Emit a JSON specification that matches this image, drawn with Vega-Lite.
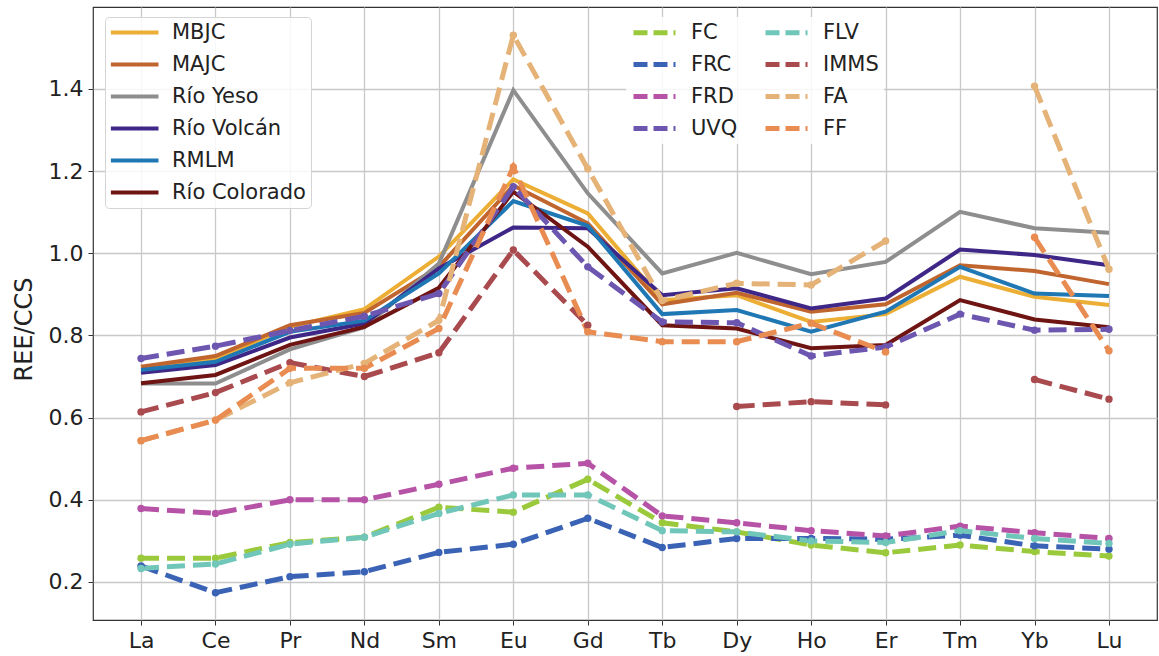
{
  "$schema": "https://vega.github.io/schema/vega-lite/v6.json",
  "width": 1064,
  "height": 613,
  "autosize": {"type": "none"},
  "padding": {"left": 93, "top": 7, "right": 2, "bottom": 36},
  "background": "white",
  "config": {
    "font": "DejaVu Sans",
    "view": {"stroke": "#333333", "strokeWidth": 1.2},
    "axis": {
      "gridColor": "#c8c8c8",
      "gridWidth": 1.3,
      "domain": false,
      "tickColor": "#333333",
      "tickSize": 5,
      "labelFontSize": 22,
      "labelColor": "#222222",
      "labelFont": "DejaVu Sans"
    }
  },
  "datasets": {
    "solid": [
      {"element": "La", "series": "MBJC", "value": 0.720},
      {"element": "Ce", "series": "MBJC", "value": 0.744},
      {"element": "Pr", "series": "MBJC", "value": 0.821},
      {"element": "Nd", "series": "MBJC", "value": 0.864},
      {"element": "Sm", "series": "MBJC", "value": 0.992},
      {"element": "Eu", "series": "MBJC", "value": 1.180},
      {"element": "Gd", "series": "MBJC", "value": 1.097},
      {"element": "Tb", "series": "MBJC", "value": 0.886},
      {"element": "Dy", "series": "MBJC", "value": 0.898},
      {"element": "Ho", "series": "MBJC", "value": 0.833},
      {"element": "Er", "series": "MBJC", "value": 0.852},
      {"element": "Tm", "series": "MBJC", "value": 0.943},
      {"element": "Yb", "series": "MBJC", "value": 0.894},
      {"element": "Lu", "series": "MBJC", "value": 0.874},
      {"element": "La", "series": "MAJC", "value": 0.724},
      {"element": "Ce", "series": "MAJC", "value": 0.750},
      {"element": "Pr", "series": "MAJC", "value": 0.825},
      {"element": "Nd", "series": "MAJC", "value": 0.855},
      {"element": "Sm", "series": "MAJC", "value": 0.967},
      {"element": "Eu", "series": "MAJC", "value": 1.165},
      {"element": "Gd", "series": "MAJC", "value": 1.073},
      {"element": "Tb", "series": "MAJC", "value": 0.876},
      {"element": "Dy", "series": "MAJC", "value": 0.904},
      {"element": "Ho", "series": "MAJC", "value": 0.858},
      {"element": "Er", "series": "MAJC", "value": 0.876},
      {"element": "Tm", "series": "MAJC", "value": 0.971},
      {"element": "Yb", "series": "MAJC", "value": 0.957},
      {"element": "Lu", "series": "MAJC", "value": 0.925},
      {"element": "La", "series": "Río Yeso", "value": 0.683},
      {"element": "Ce", "series": "Río Yeso", "value": 0.683},
      {"element": "Pr", "series": "Río Yeso", "value": 0.766},
      {"element": "Nd", "series": "Río Yeso", "value": 0.820},
      {"element": "Sm", "series": "Río Yeso", "value": 0.975},
      {"element": "Eu", "series": "Río Yeso", "value": 1.397},
      {"element": "Gd", "series": "Río Yeso", "value": 1.146},
      {"element": "Tb", "series": "Río Yeso", "value": 0.951},
      {"element": "Dy", "series": "Río Yeso", "value": 1.001},
      {"element": "Ho", "series": "Río Yeso", "value": 0.949},
      {"element": "Er", "series": "Río Yeso", "value": 0.979},
      {"element": "Tm", "series": "Río Yeso", "value": 1.101},
      {"element": "Yb", "series": "Río Yeso", "value": 1.061},
      {"element": "Lu", "series": "Río Yeso", "value": 1.050},
      {"element": "La", "series": "Río Volcán", "value": 0.709},
      {"element": "Ce", "series": "Río Volcán", "value": 0.728},
      {"element": "Pr", "series": "Río Volcán", "value": 0.795},
      {"element": "Nd", "series": "Río Volcán", "value": 0.829},
      {"element": "Sm", "series": "Río Volcán", "value": 0.963},
      {"element": "Eu", "series": "Río Volcán", "value": 1.063},
      {"element": "Gd", "series": "Río Volcán", "value": 1.061},
      {"element": "Tb", "series": "Río Volcán", "value": 0.898},
      {"element": "Dy", "series": "Río Volcán", "value": 0.915},
      {"element": "Ho", "series": "Río Volcán", "value": 0.866},
      {"element": "Er", "series": "Río Volcán", "value": 0.890},
      {"element": "Tm", "series": "Río Volcán", "value": 1.009},
      {"element": "Yb", "series": "Río Volcán", "value": 0.996},
      {"element": "Lu", "series": "Río Volcán", "value": 0.971},
      {"element": "La", "series": "RMLM", "value": 0.716},
      {"element": "Ce", "series": "RMLM", "value": 0.736},
      {"element": "Pr", "series": "RMLM", "value": 0.809},
      {"element": "Nd", "series": "RMLM", "value": 0.836},
      {"element": "Sm", "series": "RMLM", "value": 0.951},
      {"element": "Eu", "series": "RMLM", "value": 1.127},
      {"element": "Gd", "series": "RMLM", "value": 1.067},
      {"element": "Tb", "series": "RMLM", "value": 0.852},
      {"element": "Dy", "series": "RMLM", "value": 0.862},
      {"element": "Ho", "series": "RMLM", "value": 0.809},
      {"element": "Er", "series": "RMLM", "value": 0.858},
      {"element": "Tm", "series": "RMLM", "value": 0.967},
      {"element": "Yb", "series": "RMLM", "value": 0.902},
      {"element": "Lu", "series": "RMLM", "value": 0.896},
      {"element": "La", "series": "Río Colorado", "value": 0.684},
      {"element": "Ce", "series": "Río Colorado", "value": 0.704},
      {"element": "Pr", "series": "Río Colorado", "value": 0.777},
      {"element": "Nd", "series": "Río Colorado", "value": 0.821},
      {"element": "Sm", "series": "Río Colorado", "value": 0.916},
      {"element": "Eu", "series": "Río Colorado", "value": 1.150},
      {"element": "Gd", "series": "Río Colorado", "value": 1.016},
      {"element": "Tb", "series": "Río Colorado", "value": 0.825},
      {"element": "Dy", "series": "Río Colorado", "value": 0.817},
      {"element": "Ho", "series": "Río Colorado", "value": 0.769},
      {"element": "Er", "series": "Río Colorado", "value": 0.777},
      {"element": "Tm", "series": "Río Colorado", "value": 0.886},
      {"element": "Yb", "series": "Río Colorado", "value": 0.839},
      {"element": "Lu", "series": "Río Colorado", "value": 0.820}
    ],
    "dashed": [
      {"element": "La", "series": "FC", "value": 0.258},
      {"element": "Ce", "series": "FC", "value": 0.258},
      {"element": "Pr", "series": "FC", "value": 0.296},
      {"element": "Nd", "series": "FC", "value": 0.309},
      {"element": "Sm", "series": "FC", "value": 0.382},
      {"element": "Eu", "series": "FC", "value": 0.370},
      {"element": "Gd", "series": "FC", "value": 0.450},
      {"element": "Tb", "series": "FC", "value": 0.344},
      {"element": "Dy", "series": "FC", "value": 0.322},
      {"element": "Ho", "series": "FC", "value": 0.290},
      {"element": "Er", "series": "FC", "value": 0.271},
      {"element": "Tm", "series": "FC", "value": 0.290},
      {"element": "Yb", "series": "FC", "value": 0.274},
      {"element": "Lu", "series": "FC", "value": 0.263},
      {"element": "La", "series": "FRC", "value": 0.239},
      {"element": "Ce", "series": "FRC", "value": 0.174},
      {"element": "Pr", "series": "FRC", "value": 0.213},
      {"element": "Nd", "series": "FRC", "value": 0.225},
      {"element": "Sm", "series": "FRC", "value": 0.272},
      {"element": "Eu", "series": "FRC", "value": 0.292},
      {"element": "Gd", "series": "FRC", "value": 0.355},
      {"element": "Tb", "series": "FRC", "value": 0.284},
      {"element": "Dy", "series": "FRC", "value": 0.306},
      {"element": "Ho", "series": "FRC", "value": 0.306},
      {"element": "Er", "series": "FRC", "value": 0.304},
      {"element": "Tm", "series": "FRC", "value": 0.314},
      {"element": "Yb", "series": "FRC", "value": 0.288},
      {"element": "Lu", "series": "FRC", "value": 0.280},
      {"element": "La", "series": "FRD", "value": 0.379},
      {"element": "Ce", "series": "FRD", "value": 0.367},
      {"element": "Pr", "series": "FRD", "value": 0.400},
      {"element": "Nd", "series": "FRD", "value": 0.400},
      {"element": "Sm", "series": "FRD", "value": 0.438},
      {"element": "Eu", "series": "FRD", "value": 0.477},
      {"element": "Gd", "series": "FRD", "value": 0.489},
      {"element": "Tb", "series": "FRD", "value": 0.361},
      {"element": "Dy", "series": "FRD", "value": 0.344},
      {"element": "Ho", "series": "FRD", "value": 0.325},
      {"element": "Er", "series": "FRD", "value": 0.312},
      {"element": "Tm", "series": "FRD", "value": 0.336},
      {"element": "Yb", "series": "FRD", "value": 0.320},
      {"element": "Lu", "series": "FRD", "value": 0.306},
      {"element": "La", "series": "UVQ", "value": 0.744},
      {"element": "Ce", "series": "UVQ", "value": 0.774},
      {"element": "Pr", "series": "UVQ", "value": 0.812},
      {"element": "Nd", "series": "UVQ", "value": 0.847},
      {"element": "Sm", "series": "UVQ", "value": 0.902},
      {"element": "Eu", "series": "UVQ", "value": 1.162},
      {"element": "Gd", "series": "UVQ", "value": 0.967},
      {"element": "Tb", "series": "UVQ", "value": 0.833},
      {"element": "Dy", "series": "UVQ", "value": 0.831},
      {"element": "Ho", "series": "UVQ", "value": 0.750},
      {"element": "Er", "series": "UVQ", "value": 0.772},
      {"element": "Tm", "series": "UVQ", "value": 0.852},
      {"element": "Yb", "series": "UVQ", "value": 0.813},
      {"element": "Lu", "series": "UVQ", "value": 0.815},
      {"element": "La", "series": "FLV", "value": 0.233},
      {"element": "Ce", "series": "FLV", "value": 0.244},
      {"element": "Pr", "series": "FLV", "value": 0.292},
      {"element": "Nd", "series": "FLV", "value": 0.309},
      {"element": "Sm", "series": "FLV", "value": 0.367},
      {"element": "Eu", "series": "FLV", "value": 0.412},
      {"element": "Gd", "series": "FLV", "value": 0.412},
      {"element": "Tb", "series": "FLV", "value": 0.325},
      {"element": "Dy", "series": "FLV", "value": 0.322},
      {"element": "Ho", "series": "FLV", "value": 0.300},
      {"element": "Er", "series": "FLV", "value": 0.296},
      {"element": "Tm", "series": "FLV", "value": 0.325},
      {"element": "Yb", "series": "FLV", "value": 0.306},
      {"element": "Lu", "series": "FLV", "value": 0.294},
      {"element": "La", "series": "IMMS", "value": 0.614},
      {"element": "Ce", "series": "IMMS", "value": 0.661},
      {"element": "Pr", "series": "IMMS", "value": 0.734},
      {"element": "Nd", "series": "IMMS", "value": 0.700},
      {"element": "Sm", "series": "IMMS", "value": 0.758},
      {"element": "Eu", "series": "IMMS", "value": 1.008},
      {"element": "Gd", "series": "IMMS", "value": 0.825},
      {"element": "Tb", "series": "IMMS", "value": null},
      {"element": "Dy", "series": "IMMS", "value": 0.627},
      {"element": "Ho", "series": "IMMS", "value": 0.639},
      {"element": "Er", "series": "IMMS", "value": 0.631},
      {"element": "Tm", "series": "IMMS", "value": null},
      {"element": "Yb", "series": "IMMS", "value": 0.693},
      {"element": "Lu", "series": "IMMS", "value": 0.645},
      {"element": "La", "series": "FA", "value": 0.544},
      {"element": "Ce", "series": "FA", "value": 0.594},
      {"element": "Pr", "series": "FA", "value": 0.685},
      {"element": "Nd", "series": "FA", "value": 0.732},
      {"element": "Sm", "series": "FA", "value": 0.837},
      {"element": "Eu", "series": "FA", "value": 1.531},
      {"element": "Gd", "series": "FA", "value": 1.206},
      {"element": "Tb", "series": "FA", "value": 0.885},
      {"element": "Dy", "series": "FA", "value": 0.927},
      {"element": "Ho", "series": "FA", "value": 0.923},
      {"element": "Er", "series": "FA", "value": 1.030},
      {"element": "Tm", "series": "FA", "value": null},
      {"element": "Yb", "series": "FA", "value": 1.407},
      {"element": "Lu", "series": "FA", "value": 0.961},
      {"element": "La", "series": "FF", "value": 0.544},
      {"element": "Ce", "series": "FF", "value": 0.594},
      {"element": "Pr", "series": "FF", "value": 0.720},
      {"element": "Nd", "series": "FF", "value": 0.720},
      {"element": "Sm", "series": "FF", "value": 0.817},
      {"element": "Eu", "series": "FF", "value": 1.210},
      {"element": "Gd", "series": "FF", "value": 0.809},
      {"element": "Tb", "series": "FF", "value": 0.785},
      {"element": "Dy", "series": "FF", "value": 0.785},
      {"element": "Ho", "series": "FF", "value": 0.830},
      {"element": "Er", "series": "FF", "value": 0.760},
      {"element": "Tm", "series": "FF", "value": null},
      {"element": "Yb", "series": "FF", "value": 1.039},
      {"element": "Lu", "series": "FF", "value": 0.763}
    ]
  },
  "encoding": {
    "x": {
      "field": "element",
      "type": "ordinal",
      "sort": ["La", "Ce", "Pr", "Nd", "Sm", "Eu", "Gd", "Tb", "Dy", "Ho", "Er", "Tm", "Yb", "Lu"],
      "scale": {"type": "point", "padding": 0.645},
      "axis": {"title": null, "labelAngle": 0, "grid": true, "labelPadding": 5}
    },
    "y": {
      "field": "value",
      "type": "quantitative",
      "scale": {"domain": [0.1075, 1.5995], "nice": false, "zero": false},
      "axis": {
        "title": "REE/CCS",
        "values": [0.2, 0.4, 0.6, 0.8, 1.0, 1.2, 1.4],
        "format": ".1f",
        "grid": true,
        "labelPadding": 5,
        "titleFontSize": 24,
        "titleFontWeight": "normal",
        "titleColor": "#222222",
        "titleX": -69,
        "titleY": 322,
        "titleBaseline": "middle",
        "titleAlign": "center",
        "titleAngle": -90
      }
    }
  },
  "layer": [
    {
      "data": {"name": "solid"},
      "mark": {"type": "line", "strokeWidth": 4},
      "encoding": {
        "color": {
          "field": "series",
          "type": "nominal",
          "scale": {
            "domain": ["MBJC", "MAJC", "Río Yeso", "Río Volcán", "RMLM", "Río Colorado"],
            "range": ["#ECAE34", "#C1652F", "#8E8E8E", "#3F2788", "#1F77B4", "#6E1413"]
          },
          "legend": {
            "title": null,
            "orient": "none",
            "legendX": 12,
            "legendY": 10,
            "symbolType": "M-1.2,0H4.75",
            "symbolStrokeWidth": 4,
            "symbolSize": 256,
            "labelFontSize": 21,
            "labelFont": "DejaVu Sans",
            "labelColor": "#222222",
            "labelOffset": 41,
            "rowPadding": 10,
            "padding": 5,
            "fillColor": "rgba(255,255,255,0.85)",
            "strokeColor": "#d4d4d4",
            "cornerRadius": 4
          }
        }
      }
    },
    {
      "data": {"name": "dashed"},
      "mark": {
        "type": "line",
        "strokeWidth": 5,
        "strokeDash": [18, 8],
        "invalid": "break-paths-show-domains",
        "point": {"filled": true, "size": 55, "opacity": 1}
      },
      "encoding": {
        "color": {
          "field": "series",
          "type": "nominal",
          "scale": {
            "domain": ["FC", "FRC", "FRD", "UVQ", "FLV", "IMMS", "FA", "FF"],
            "range": ["#9BC93C", "#3A62B5", "#B653A6", "#6C56B0", "#70C6B9", "#A94A4E", "#E5B277", "#E98C52"]
          },
          "legend": {
            "title": null,
            "orient": "none",
            "legendX": 533,
            "legendY": 10,
            "columns": 2,
            "columnPadding": 17,
            "symbolType": "M-1,0H4.25",
            "symbolStrokeWidth": 5,
            "symbolDash": [14, 6],
            "symbolSize": 256,
            "labelFontSize": 21,
            "labelFont": "DejaVu Sans",
            "labelColor": "#222222",
            "labelOffset": 39,
            "rowPadding": 10,
            "padding": 5,
            "fillColor": "rgba(255,255,255,0.85)"
          }
        }
      }
    }
  ],
  "resolve": {"scale": {"color": "independent"}}
}
